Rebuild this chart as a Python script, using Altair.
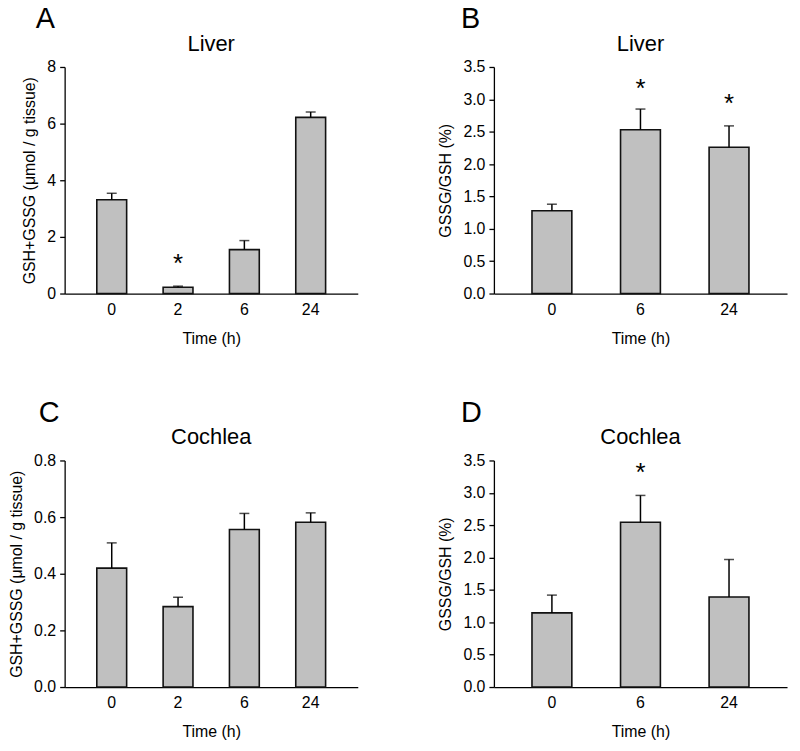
import altair as alt
import pandas as pd

FONT = "Liberation Sans"

times_gsh = ["0", "2", "6", "24"]
times_ratio = ["0", "6", "24"]

liver_gsh_mean = [3.31, 0.22, 1.55, 6.22]
liver_gsh_sem = [0.23, 0.04, 0.32, 0.19]
liver_gsh_star = [None, 1.20, None, None]

liver_ratio_mean = [1.28, 2.53, 2.26]
liver_ratio_sem = [0.10, 0.32, 0.33]
liver_ratio_star = [None, 3.24, 3.01]

cochlea_gsh_mean = [0.42, 0.284, 0.556, 0.582]
cochlea_gsh_sem = [0.089, 0.033, 0.057, 0.033]
cochlea_gsh_star = [None, None, None, None]

cochlea_ratio_mean = [1.145, 2.545, 1.39]
cochlea_ratio_sem = [0.275, 0.415, 0.58]
cochlea_ratio_star = [None, 3.38, None]

gsh_title = "GSH+GSSG (\u03bcmol / g tissue)"
ratio_title = "GSSG/GSH (%)"

W, H = 295, 228


def panel(times, mean, sem, star, ymax, ystep, fmt, ytitle, title, letter,
          pad_outer, letter_dx):
    df = pd.DataFrame({
        "time": times,
        "mean": mean,
        "upper": [m + s for m, s in zip(mean, sem)],
        "star": star,
        "label": ["*" if s is not None else "" for s in star],
    })
    nticks = int(round(ymax / ystep))
    ticks = [round(i * ystep, 3) for i in range(nticks + 1)]
    xscale = alt.Scale(paddingInner=0.55, paddingOuter=pad_outer)
    xaxis = alt.Axis(title="Time (h)", labelAngle=0, ticks=False,
                     labelPadding=8, titlePadding=13,
                     domainColor="black", domainWidth=1.3,
                     labelFontSize=16, titleFontSize=16,
                     labelFont=FONT, titleFont=FONT,
                     titleFontWeight="normal", labelColor="black",
                     titleColor="black")
    yscale = alt.Scale(domain=[0, ymax], nice=False)
    yaxis = alt.Axis(title=ytitle, values=ticks, format=fmt, grid=False,
                     labelOverlap=False, labelBound=False,
                     tickSize=5, tickColor="black", tickWidth=1.3,
                     domainColor="black", domainWidth=1.3,
                     labelPadding=4, titlePadding=9,
                     labelFontSize=16, titleFontSize=16,
                     labelFont=FONT, titleFont=FONT,
                     titleFontWeight="normal", labelColor="black",
                     titleColor="black")
    x = alt.X("time:N", sort=times, scale=xscale, axis=xaxis)

    def Y(field):
        return alt.Y(field + ":Q", scale=yscale, axis=yaxis)

    base = alt.Chart(df)
    bars = base.mark_bar(fill="#c0c0c0", stroke="#111111", strokeWidth=1.6).encode(
        x=x, y=Y("mean"))
    rule = base.mark_rule(color="black", strokeWidth=1.5).encode(
        x=x, y=Y("mean"), y2="upper:Q")
    cap = base.mark_tick(color="black", size=10, thickness=1.5).encode(
        x=x, y=Y("upper"))
    stars = base.transform_filter("datum.star != null").mark_text(
        font=FONT, fontSize=26, color="black", baseline="alphabetic", dy=13
    ).encode(x=x, y=Y("star"), text="label:N")
    let = alt.Chart(pd.DataFrame({"t": [letter]})).mark_text(
        font=FONT, fontSize=29, color="black", align="left", baseline="alphabetic"
    ).encode(x=alt.value(letter_dx), y=alt.value(-39), text="t:N")
    ttl = alt.Chart(pd.DataFrame({"t": [title]})).mark_text(
        font=FONT, fontSize=22, color="black", align="center", baseline="alphabetic"
    ).encode(x=alt.value(W / 2), y=alt.value(-16.5), text="t:N")
    return alt.layer(bars, rule, cap, stars, let, ttl).properties(width=W, height=H)


pA = panel(times_gsh, liver_gsh_mean, liver_gsh_sem, liver_gsh_star, 8, 2, "d",
           gsh_title, "Liver", "A", 0.485, -29)
pB = panel(times_ratio, liver_ratio_mean, liver_ratio_sem, liver_ratio_star, 3.5, 0.5, ".1f",
           ratio_title, "Liver", "B", 0.43, -33)
pC = panel(times_gsh, cochlea_gsh_mean, cochlea_gsh_sem, cochlea_gsh_star, 0.8, 0.2, ".1f",
           gsh_title, "Cochlea", "C", 0.485, -26)
pD = panel(times_ratio, cochlea_ratio_mean, cochlea_ratio_sem, cochlea_ratio_star, 3.5, 0.5, ".1f",
           ratio_title, "Cochlea", "D", 0.43, -33)

chart = alt.concat(pA, pB, pC, pD, columns=2, spacing={"row": 168, "column": 137},
                   bounds="flush").properties(
    padding={"left": 0, "top": -5, "right": 5, "bottom": 5}
).configure(background="white").configure_view(
    stroke="transparent", strokeWidth=0
).configure_axis(labelOverlap=False)

chart.save("out.html", embed_options={"renderer": "svg", "actions": False})
